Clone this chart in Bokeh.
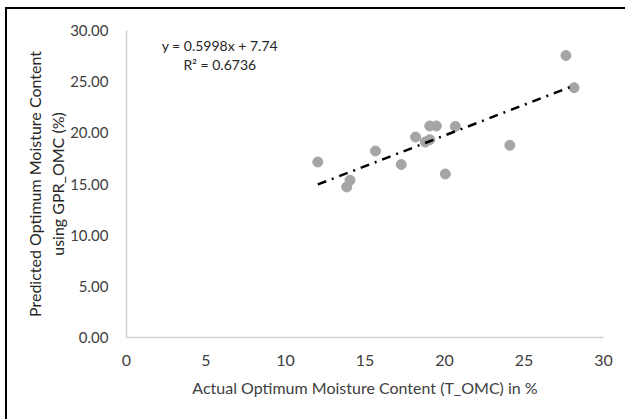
from bokeh.plotting import figure
from bokeh.models import SingleIntervalTicker, NumeralTickFormatter, Label, ColumnDataSource
from bokeh.embed import file_html
from bokeh.resources import INLINE
import numpy as np

# data
actual_omc = [12.03, 13.85, 14.06, 15.66, 17.28, 18.18, 18.79, 19.07, 19.07, 19.49, 20.05, 20.68, 24.11, 27.64, 28.15]
predicted_omc = [17.15, 14.71, 15.37, 18.22, 16.90, 19.59, 19.10, 19.33, 20.67, 20.67, 15.98, 20.63, 18.78, 27.56, 24.41]
slope = 0.5998
intercept = 7.74
r_squared = 0.6736

FONT = "Lato"

p = figure(width=620, height=412, x_range=(0, 30), y_range=(0, 30),
           output_backend="svg", toolbar_location=None,
           min_border_left=119, min_border_right=24, min_border_top=21, min_border_bottom=84,
           background_fill_color="white", border_fill_color="white",
           margin=(7, 0, 0, 5),
           styles={"border-left": "2px solid #000", "border-top": "2px solid #000"})
p.outline_line_color = None
p.xgrid.visible = False
p.ygrid.visible = False

p.xaxis.ticker = SingleIntervalTicker(interval=5)
p.yaxis.ticker = SingleIntervalTicker(interval=5)
p.yaxis.formatter = NumeralTickFormatter(format="0.00")
for ax in (p.xaxis, p.yaxis):
    ax.major_tick_line_color = None
    ax.minor_tick_line_color = None
    ax.axis_line_color = "#d0d0d0"
    ax.axis_line_width = 1.5
    ax.major_label_text_font = FONT
    ax.major_label_text_color = "#404040"
    ax.axis_label_text_font = FONT
    ax.axis_label_text_font_style = "normal"
p.xaxis.major_label_text_font_size = "16px"
p.yaxis.major_label_text_font_size = "15px"
p.xaxis.major_label_standoff = 11
p.yaxis.major_label_standoff = 12
p.xaxis.axis_label = "Actual Optimum Moisture Content (T_OMC) in %"
p.xaxis.axis_label_text_color = "#404040"
p.xaxis.axis_label_text_font_size = "16px"
p.xaxis.axis_label_standoff = 9
p.yaxis.axis_label = "Predicted Optimum Moisture Content\nusing GPR_OMC (%)"
p.yaxis.axis_label_text_color = "#262626"
p.yaxis.axis_label_text_font_size = "16px"
p.yaxis.axis_label_standoff = 0

src = ColumnDataSource(dict(x=actual_omc, y=predicted_omc))
p.scatter("x", "y", source=src, size=10, fill_color="#a5a5a5", line_color="#a5a5a5")

tx = np.array([min(actual_omc), max(actual_omc)])
p.line(tx, slope * tx + intercept, line_color="black", line_width=2.5, line_dash="9 6 2 6")

eq1 = "y = %.4fx + %.2f" % (slope, intercept)
eq2 = "R² = %.4f" % r_squared
p.add_layout(Label(x=5.87, y=28.5, text=eq1, text_align="center", text_baseline="middle",
                   text_font=FONT, text_font_size="14px", text_color="#262626"))
p.add_layout(Label(x=5.87, y=26.7, text=eq2, text_align="center", text_baseline="middle",
                   text_font=FONT, text_font_size="14px", text_color="#262626"))

open("out.html", "w").write(file_html(p, INLINE))
